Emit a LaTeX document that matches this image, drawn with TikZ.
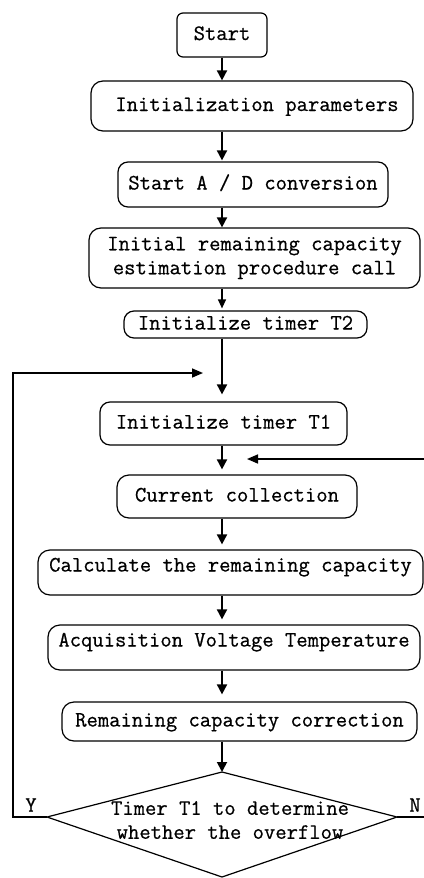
\documentclass[tikz,border=0pt]{standalone}
\usepackage{fontspec}
\setmonofont[FakeBold=0.6]{Latin Modern Mono}
\usetikzlibrary{arrows.meta}
\begin{document}
\begin{tikzpicture}[x=1pt,y=-1pt,
  font=\ttfamily\fontsize{22pt}{24pt}\selectfont,
  box/.style={draw, line width=1.2pt, rounded corners=#1, inner sep=2pt,
              text height=14pt, text depth=4pt},
  box/.default=10pt,
  flow/.style={line width=1.8pt, -{Triangle[length=10pt,width=10pt]}},
  thinflow/.style={line width=1.2pt, -{Triangle[length=9pt,width=8pt]}},
  loop/.style={line width=1.6pt, -{Triangle[length=11pt,width=9pt]}},
  yn/.style={inner sep=0pt}]
\useasboundingbox (0,0) rectangle (423,878);

% process boxes
\node[box=6pt, minimum width=90pt, minimum height=44pt] (start) at (222,35) {Start};
\node[box=12pt, minimum width=322pt, minimum height=50pt] (init) at (252,106) {\hspace*{10pt}Initialization parameters};
\node[box=10pt, minimum width=270pt, minimum height=45pt] (ad) at (253,184.5) {Start A / D conversion};
\node[box=12pt, minimum width=331pt, minimum height=60pt, align=center, text height=, text depth=] (est) at (254.5,258)
  {Initial remaining capacity\\estimation procedure call};
\node[box=10pt, minimum width=243pt, minimum height=27pt] (t2) at (245.5,324.5) {Initialize timer T2};
\node[box=10pt, minimum width=247pt, minimum height=43pt] (t1) at (223.5,423.5) {Initialize timer T1};
\node[box=12pt, minimum width=240pt, minimum height=43pt] (cur) at (237,496.5) {Current collection};
\node[box=12pt, minimum width=385pt, minimum height=45pt, text depth=16pt] (calc) at (230.5,572.5) {Calculate the remaining capacity};
\node[box=12pt, minimum width=372pt, minimum height=45pt, text depth=16pt] (acq) at (234,647.5) {Acquisition Voltage Temperature};
\node[box=12pt, minimum width=355pt, minimum height=39pt] (rem) at (239.5,721.5) {Remaining capacity correction};

% decision
\coordinate (dtop) at (222,772);
\coordinate (dleft) at (47,817);
\coordinate (dright) at (397,817);
\coordinate (dbot) at (222,877);
\draw[line width=1.2pt] (dtop) -- (dright) -- (dbot) -- (dleft) -- cycle;
\node[align=center, inner sep=0pt] (dec) at (230,820) {Timer T1 to determine\\whether the overflow};
\node[yn] (ylab) at (31,805) {Y};
\node[yn] (nlab) at (415,805) {N};

% main flow
\draw[flow] (start) -- (init.north -| start);
\draw[flow, shorten >=1pt] (init.south -| start) -- (ad.north -| start);
\draw[flow] (ad.south -| start) -- (est.north -| start);
\draw[thinflow, shorten >=2pt] (est.south -| start) -- (t2.north -| start);
\draw[flow, shorten >=7pt] (t2.south -| start) -- (t1.north -| start);
\draw[flow, shorten >=5pt] (t1.south -| start) -- (cur.north -| start);
\draw[flow, shorten >=5pt] (cur.south -| start) -- (calc.north -| start);
\draw[flow, shorten >=5pt] (calc.south -| start) -- (acq.north -| start);
\draw[flow, shorten >=7pt] (acq.south -| start) -- (rem.north -| start);
\draw[flow] (rem.south -| start) -- (dtop);

% loop back on overflow (Y)
\coordinate (yback) at (203,373);
\draw[loop] (dleft) -- (13,817) -- (13,373) -- (yback);
% loop back otherwise (N)
\coordinate (nback) at (247,459);
\draw[loop] (dright) -- (426,817) -- (426,459) -- (nback);
\end{tikzpicture}
\end{document}
